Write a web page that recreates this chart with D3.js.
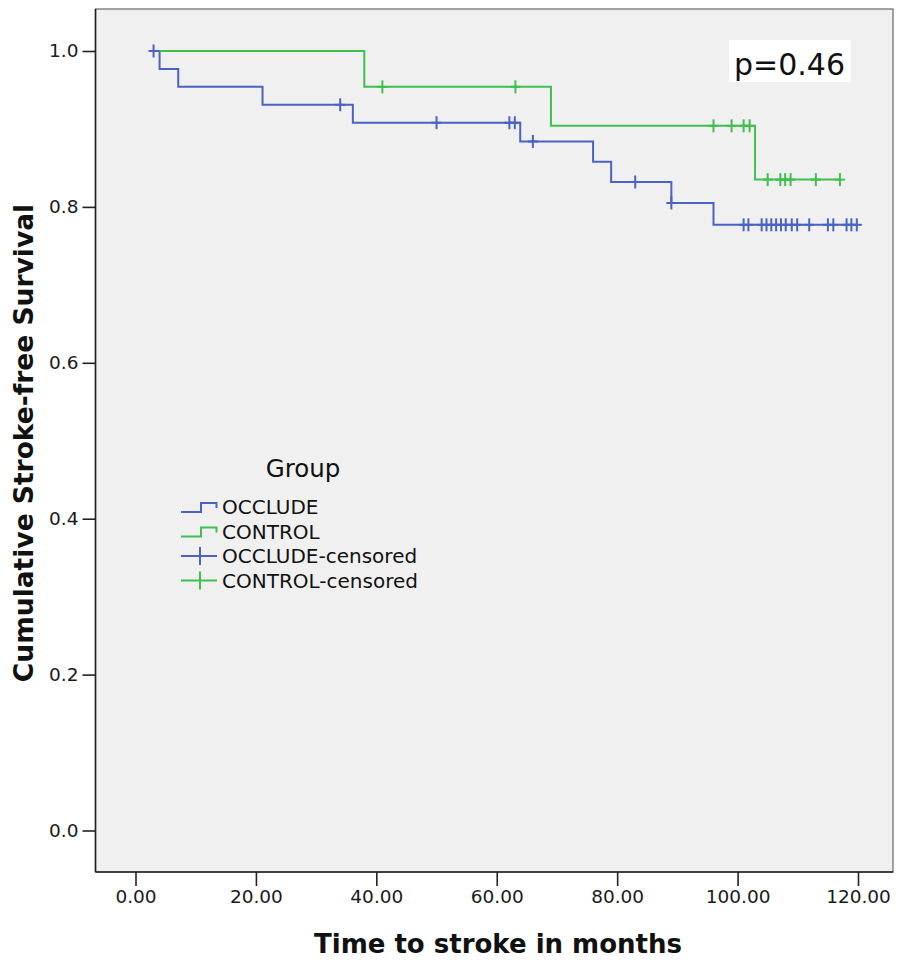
<!DOCTYPE html>
<html><head><meta charset="utf-8">
<script src="https://cdn.jsdelivr.net/npm/d3@7/dist/d3.min.js"></script>
<style>body{margin:0;background:#fff}svg{display:block}</style>
</head><body>
<svg id="chart" width="897" height="963"></svg>
<script>
// ---- data ----
const groups = ["OCCLUDE", "CONTROL"];
const occludeStart = 3;
const occludeEventTimes = [4, 7.1, 21.1, 36.1, 63.9, 76, 79, 89, 96];
const occludeSurvival   = [0.977, 0.954, 0.931, 0.908, 0.884, 0.858, 0.832, 0.805, 0.777];
const occludeCensored   = [3, 34, 50, 62.1, 63, 66, 83, 89, 101, 101.8, 104, 104.8, 105.6, 106.4, 107.2, 108, 109, 109.9, 111.9, 115, 115.9, 118.1, 118.9, 119.8];
const controlStart = 4;
const controlEventTimes = [38, 69, 102.9];
const controlSurvival   = [0.954, 0.904, 0.835];
const controlCensored   = [41, 63.1, 96, 99, 101, 102, 105, 107.1, 107.9, 108.8, 113, 117];
const xTicks = [0, 20, 40, 60, 80, 100, 120];
const yTicks = [0, 0.2, 0.4, 0.6, 0.8, 1.0];
const legendLabels = ["OCCLUDE", "CONTROL", "OCCLUDE-censored", "CONTROL-censored"];
const pValueText = "p=0.46";

const colors = {OCCLUDE: "#4a62c2", CONTROL: "#3fbf4e"};

// ---- layout ----
const svg = d3.select("#chart");
const frame = {left: 95.5, right: 893, top: 9, bottom: 872};
const x = d3.scaleLinear().domain([0, 120]).range([135.5, 858]);
const y = d3.scaleLinear().domain([0, 1]).range([830.5, 51]);
const FONT = "DejaVu Sans, Verdana, sans-serif";

svg.append("rect")
  .attr("x", frame.left).attr("y", frame.top)
  .attr("width", frame.right - frame.left).attr("height", frame.bottom - frame.top)
  .attr("fill", "#f0f0f0").attr("stroke", "#666").attr("stroke-width", 1.2);
svg.append("line").attr("x1", frame.left).attr("x2", frame.left).attr("y1", frame.top).attr("y2", frame.bottom)
  .attr("stroke", "#222").attr("stroke-width", 1.6);
svg.append("line").attr("x1", frame.left).attr("x2", frame.right).attr("y1", frame.bottom).attr("y2", frame.bottom)
  .attr("stroke", "#222").attr("stroke-width", 1.6);

// axes
const xAxis = d3.axisBottom(x).tickValues(xTicks).tickFormat(d3.format(".2f")).tickSize(14).tickSizeOuter(0);
const gx = svg.append("g").attr("transform", `translate(0,${frame.bottom})`).call(xAxis);
gx.select(".domain").remove();
gx.selectAll(".tick line").attr("stroke", "#222").attr("stroke-width", 1.6);
gx.selectAll(".tick text").attr("font-family", FONT).attr("font-size", 18.5).attr("fill", "#1a1a1a").attr("y", 18).attr("dy", "0.71em");

const yAxis = d3.axisLeft(y).tickValues(yTicks).tickFormat(d3.format(".1f")).tickSize(13).tickSizeOuter(0);
const gy = svg.append("g").attr("transform", `translate(${frame.left},0)`).call(yAxis);
gy.select(".domain").remove();
gy.selectAll(".tick line").attr("stroke", "#222").attr("stroke-width", 1.6);
gy.selectAll(".tick text").attr("font-family", FONT).attr("font-size", 18.5).attr("fill", "#1a1a1a").attr("x", -17);

// axis titles
svg.append("text").attr("x", 498).attr("y", 953).attr("text-anchor", "middle")
  .attr("font-family", FONT).attr("font-weight", "bold").attr("font-size", 26).attr("fill", "#111")
  .text("Time to stroke in months");
svg.append("text").attr("transform", "translate(33,443) rotate(-90)").attr("text-anchor", "middle")
  .attr("font-family", FONT).attr("font-weight", "bold").attr("font-size", 26.5).attr("fill", "#111")
  .text("Cumulative Stroke-free Survival");

// ---- curves ----
function stepPoints(start, times, surv, censored) {
  const pts = [[start, 1]];
  times.forEach((t, i) => pts.push([t, surv[i]]));
  const end = d3.max([d3.max(times), d3.max(censored)]);
  pts.push([end, surv[surv.length - 1]]);
  return pts;
}
function survAt(t, times, surv) {
  let s = 1;
  times.forEach((tt, i) => { if (t >= tt) s = surv[i]; });
  return s;
}
const line = d3.line().x(d => x(d[0])).y(d => y(d[1])).curve(d3.curveStepAfter);

const series = [
  {name: "OCCLUDE", start: occludeStart, times: occludeEventTimes, surv: occludeSurvival, cens: occludeCensored},
  {name: "CONTROL", start: controlStart, times: controlEventTimes, surv: controlSurvival, cens: controlCensored}
];

series.forEach(s => {
  svg.append("path").datum(stepPoints(s.start, s.times, s.surv, s.cens))
    .attr("d", line).attr("fill", "none").attr("stroke", colors[s.name]).attr("stroke-width", 2);
});
series.forEach(s => {
  const g = svg.append("g").attr("stroke", colors[s.name]).attr("stroke-width", 2);
  s.cens.forEach(t => {
    const cx = x(t), cy = y(survAt(t, s.times, s.surv));
    g.append("line").attr("x1", cx - 5).attr("x2", cx + 5).attr("y1", cy).attr("y2", cy);
    g.append("line").attr("x1", cx).attr("x2", cx).attr("y1", cy - 6.5).attr("y2", cy + 6.5);
  });
});

// ---- p value box ----
svg.append("rect").attr("x", 729).attr("y", 40).attr("width", 122).attr("height", 42).attr("fill", "#fff");
svg.append("text").attr("x", 734).attr("y", 75).attr("font-family", FONT).attr("font-size", 30).attr("fill", "#111")
  .text(pValueText);

// ---- legend ----
const lg = svg.append("g");
lg.append("text").attr("x", 303).attr("y", 477).attr("text-anchor", "middle")
  .attr("font-family", FONT).attr("font-size", 24.5).attr("fill", "#111").text("Group");
const rowY = [507, 531.5, 556, 580.5];
legendLabels.forEach((lab, i) => {
  const cy = rowY[i];
  const col = i % 2 === 0 ? colors.OCCLUDE : colors.CONTROL;
  if (i < 2) {
    lg.append("path").attr("d", `M181,${cy + 5}H201V${cy - 4}H216.5V${cy + 1}`)
      .attr("fill", "none").attr("stroke", col).attr("stroke-width", 2);
  } else {
    lg.append("line").attr("x1", 181).attr("x2", 217).attr("y1", cy).attr("y2", cy).attr("stroke", col).attr("stroke-width", 2);
    lg.append("line").attr("x1", 200).attr("x2", 200).attr("y1", cy - 9).attr("y2", cy + 9).attr("stroke", col).attr("stroke-width", 2);
  }
  lg.append("text").attr("x", 222).attr("y", cy).attr("dy", "0.36em")
    .attr("font-family", FONT).attr("font-size", 20).attr("fill", "#111").text(lab);
});
</script>
</body></html>
